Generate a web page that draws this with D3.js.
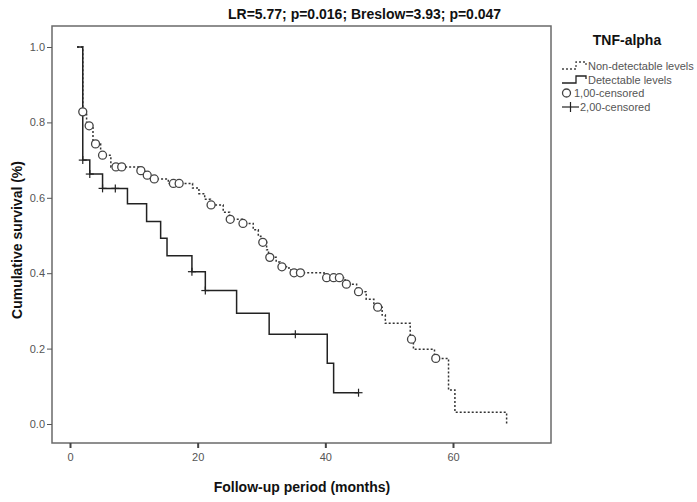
<!DOCTYPE html>
<html><head><meta charset="utf-8">
<script src="https://cdn.jsdelivr.net/npm/d3@7"></script>
<style>
html,body{margin:0;padding:0;background:#fff;}
svg{display:block;}
text{font-family:"Liberation Sans Narrow","Liberation Sans",Arial,sans-serif;}
</style></head>
<body>
<script>
// ---- data ----
const xTicks = [0, 20, 40, 60];
const yTicks = [0.0, 0.2, 0.4, 0.6, 0.8, 1.0];
const yTickLabels = ["0.0", "0.2", "0.4", "0.6", "0.8", "1.0"];
const legendTitle = "TNF-alpha";
const legendLabels = ["Non-detectable levels", "Detectable levels", "1,00-censored", "2,00-censored"];
const titleText = "LR=5.77; p=0.016; Breslow=3.93; p=0.047";
const xLabel = "Follow-up period (months)";
const yLabel = "Cumulative survival (%)";

// step points: [time (months), survival after that time]
const nonDetSteps = [
  [1.1, 1.0], [2.0, 0.828], [2.6, 0.791], [3.6, 0.743], [4.8, 0.713], [6.4, 0.682],
  [10.8, 0.672], [11.8, 0.660], [12.9, 0.650], [15.4, 0.638],
  [19.2, 0.626], [20.2, 0.611], [21.1, 0.596], [22.0, 0.581],
  [24.0, 0.562], [25.0, 0.543], [27.0, 0.532],
  [28.7, 0.515], [29.5, 0.498], [29.9, 0.482], [30.8, 0.462], [31.1, 0.442],
  [32.3, 0.430], [32.9, 0.417], [34.3, 0.409], [35.0, 0.401], [39.8, 0.388],
  [43.1, 0.371], [44.9, 0.351], [46.4, 0.331], [47.6, 0.310], [48.9, 0.289], [49.4, 0.267],
  [53.3, 0.225], [53.8, 0.198], [57.1, 0.174], [59.3, 0.090], [60.3, 0.031], [68.4, 0.031], [68.4, 0.0]
];
const nonDetCensored = [
  [2.0, 0.828], [3.0, 0.791], [4.0, 0.743], [5.1, 0.713], [7.2, 0.682], [8.1, 0.682],
  [11.1, 0.672], [12.1, 0.660], [13.2, 0.650], [16.2, 0.638], [17.1, 0.638],
  [22.1, 0.581], [25.1, 0.543], [27.1, 0.532], [30.2, 0.482], [31.3, 0.442], [33.2, 0.417],
  [35.1, 0.401], [36.1, 0.401], [40.2, 0.388], [41.3, 0.388], [42.2, 0.388],
  [43.3, 0.371], [45.2, 0.351], [48.2, 0.310], [53.5, 0.225], [57.3, 0.174]
];
const detSteps = [
  [1.1, 1.0], [2.0, 0.700], [3.1, 0.663], [5.1, 0.625], [9.0, 0.584], [12.0, 0.537],
  [14.2, 0.493], [15.2, 0.446], [19.1, 0.404], [21.2, 0.354], [26.1, 0.294],
  [31.2, 0.238], [40.3, 0.161], [41.3, 0.083], [45.2, 0.083]
];
const detCensored = [
  [2.0, 0.700], [3.1, 0.663], [5.1, 0.625], [7.1, 0.625], [19.1, 0.404],
  [21.2, 0.354], [35.3, 0.238], [45.2, 0.083]
];

// ---- layout ----
const W = 697, H = 502;
const frame = {left: 52, right: 551, top: 26, bottom: 443};
const svg = d3.select("body").append("svg").attr("width", W).attr("height", H);

const x = d3.scaleLinear().domain([0, 60]).range([70, 453]);
const y = d3.scaleLinear().domain([0, 1]).range([424, 47]);

// frame
svg.append("rect")
  .attr("x", frame.left).attr("y", frame.top)
  .attr("width", frame.right - frame.left).attr("height", frame.bottom - frame.top)
  .attr("fill", "none").attr("stroke", "#6a6a6a").attr("stroke-width", 1.5);

// y axis
const yAxis = svg.append("g").attr("transform", `translate(${frame.left},0)`)
  .call(d3.axisLeft(y).tickValues(yTicks).tickSize(5).tickFormat((d, i) => yTickLabels[i]));
yAxis.select(".domain").remove();
yAxis.selectAll("line").attr("stroke", "#555");
yAxis.selectAll("text").attr("fill", "#555").attr("font-size", 11).attr("dx", 1);

// x axis
const xAxis = svg.append("g").attr("transform", `translate(0,${frame.bottom})`)
  .call(d3.axisBottom(x).tickValues(xTicks).tickSize(5).tickFormat(d3.format("d")));
xAxis.select(".domain").remove();
xAxis.selectAll("line").attr("stroke", "#444").attr("stroke-width", 2);
xAxis.selectAll("text").attr("fill", "#555").attr("font-size", 11).attr("dy", "0.9em");

// curves
const line = d3.line().x(d => x(d[0])).y(d => y(d[1])).curve(d3.curveStepAfter);
svg.append("path").datum(nonDetSteps).attr("d", line)
  .attr("fill", "none").attr("stroke", "#333").attr("stroke-width", 1.5)
  .attr("stroke-dasharray", "2,2");
svg.append("path").datum(detSteps).attr("d", line)
  .attr("fill", "none").attr("stroke", "#222").attr("stroke-width", 1.5);

// censor marks
svg.append("g").selectAll("circle").data(nonDetCensored).join("circle")
  .attr("cx", d => x(d[0])).attr("cy", d => y(d[1])).attr("r", 4)
  .attr("fill", "#fff").attr("stroke", "#444").attr("stroke-width", 1.3);
const plus = svg.append("g").attr("stroke", "#222").attr("stroke-width", 1.2);
detCensored.forEach(d => {
  plus.append("line").attr("x1", x(d[0]) - 4).attr("x2", x(d[0]) + 4).attr("y1", y(d[1])).attr("y2", y(d[1]));
  plus.append("line").attr("x1", x(d[0])).attr("x2", x(d[0])).attr("y1", y(d[1]) - 4).attr("y2", y(d[1]) + 4);
});

// title
svg.append("text").attr("x", 228).attr("y", 19).attr("font-size", 14).attr("font-weight", "bold")
  .attr("fill", "#111").text(titleText);

// axis labels
svg.append("text").attr("x", 302).attr("y", 492).attr("text-anchor", "middle")
  .attr("font-size", 14).attr("font-weight", "bold").attr("fill", "#111").text(xLabel);
svg.append("text").attr("transform", "translate(22,240) rotate(-90)").attr("text-anchor", "middle")
  .attr("font-size", 14).attr("font-weight", "bold").attr("fill", "#111").text(yLabel);

// legend
const lg = svg.append("g");
lg.append("text").attr("x", 627).attr("y", 45).attr("text-anchor", "middle")
  .attr("font-size", 14).attr("font-weight", "bold").attr("fill", "#111").text(legendTitle);
const ly = [66, 80, 93, 107];
const lx = 562;
lg.selectAll("text.item").data(legendLabels).join("text").attr("class", "item")
  .attr("x", (d, i) => i < 2 ? lx + 26 : (i === 2 ? lx + 12 : lx + 18))
  .attr("y", (d, i) => ly[i] + 4).attr("font-size", 11).attr("fill", "#555").text(d => d);
// legend symbols
lg.append("path").attr("d", `M${lx},${ly[0]+3}H${lx+14}V${ly[0]-4}H${lx+24}V${ly[0]-1}`)
  .attr("fill", "none").attr("stroke", "#444").attr("stroke-width", 1.3).attr("stroke-dasharray", "2,2");
lg.append("path").attr("d", `M${lx},${ly[1]+3}H${lx+14}V${ly[1]-4}H${lx+24}V${ly[1]-1}`)
  .attr("fill", "none").attr("stroke", "#222").attr("stroke-width", 1.3);
lg.append("circle").attr("cx", lx + 4.5).attr("cy", ly[2]).attr("r", 4)
  .attr("fill", "#fff").attr("stroke", "#444").attr("stroke-width", 1.3);
lg.append("line").attr("x1", lx).attr("x2", lx + 17).attr("y1", ly[3]).attr("y2", ly[3]).attr("stroke", "#222").attr("stroke-width", 1.2);
lg.append("line").attr("x1", lx + 8.5).attr("x2", lx + 8.5).attr("y1", ly[3] - 5).attr("y2", ly[3] + 5).attr("stroke", "#222").attr("stroke-width", 1.2);
</script>
</body></html>
